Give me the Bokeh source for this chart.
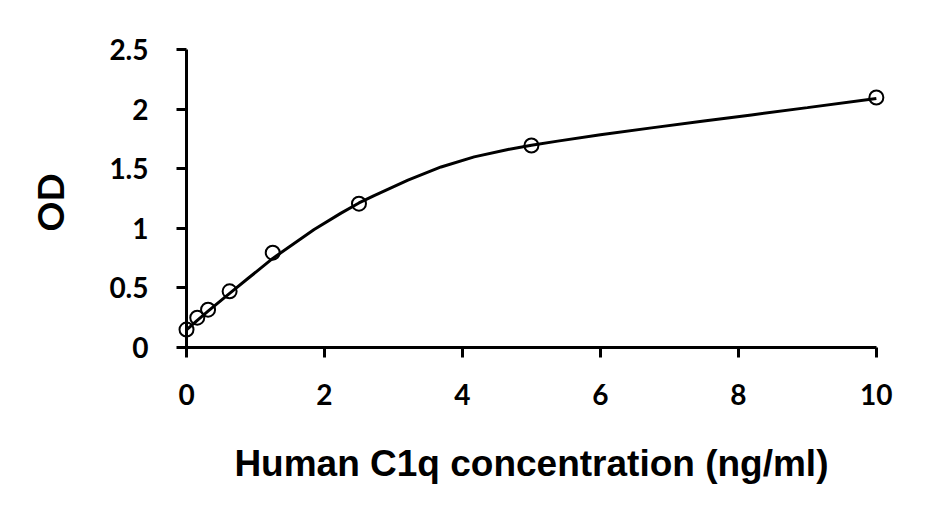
import math
from bokeh.plotting import figure
from bokeh.models import Range1d, FixedTicker, Label
from bokeh.embed import file_html
from bokeh.resources import INLINE

# Measured standards (ng/ml vs OD)
conc = [0, 0.156, 0.3125, 0.625, 1.25, 2.5, 5, 10]
od = [0.151, 0.251, 0.318, 0.472, 0.796, 1.207, 1.695, 2.098]

# Fitted curve
fit_x = [0, 0.156, 0.3125, 0.625, 0.885, 1.25, 1.85, 2.24, 2.5, 2.72, 3.21, 3.69,
         4.17, 4.66, 5.0, 5.38, 6.0, 6.74, 7.5, 8.19, 9.0, 10]
fit_y = [0.148, 0.228, 0.305, 0.455, 0.577, 0.748, 0.99, 1.128, 1.213, 1.275, 1.405, 1.515,
         1.600, 1.662, 1.697, 1.732, 1.785, 1.843, 1.90, 1.952, 2.013, 2.09]

x_ticks = [0, 2, 4, 6, 8, 10]
y_ticks = [0, 0.5, 1, 1.5, 2, 2.5]
y_labels = ["0", "0.5", "1", "1.5", "2", "2.5"]

x_title = "Human C1q concentration (ng/ml)"
y_title = "OD"

p = figure(frame_width=883, frame_height=472,
           x_range=Range1d(-2.45, 10.35), y_range=Range1d(-1.3, 2.66),
           output_backend="svg", toolbar_location=None,
           min_border_left=17, min_border_right=34,
           min_border_top=30, min_border_bottom=6)
p.outline_line_color = None
p.xgrid.visible = False
p.ygrid.visible = False
p.background_fill_color = "white"

for ax in (p.xaxis, p.yaxis):
    ax.fixed_location = 0
    ax.axis_line_width = 3
    ax.axis_line_color = "black"
    ax.major_tick_line_width = 3
    ax.major_tick_line_color = "black"
    ax.major_tick_in = 0
    ax.major_tick_out = 10
    ax.minor_tick_line_color = None
    ax.major_label_text_font = "Lato"
    ax.major_label_text_font_style = "bold"
    ax.major_label_text_font_size = "28px"
    ax.major_label_text_color = "black"

p.xaxis.ticker = FixedTicker(ticks=x_ticks)
p.xaxis.bounds = (0, 10)
p.xaxis.major_label_standoff = 26

p.yaxis.ticker = FixedTicker(ticks=y_ticks)
p.yaxis.bounds = (0, 2.5)
p.yaxis.major_label_overrides = {float(t): l for t, l in zip(y_ticks, y_labels)}
p.yaxis.major_label_standoff = 28

p.add_layout(Label(x=5, y=-0.97, text=x_title, text_align="center",
                   text_baseline="alphabetic", text_font="Liberation Sans",
                   text_font_style="bold", text_font_size="37px", text_color="black"))
p.add_layout(Label(x=-1.985, y=1.217, text=y_title, angle=math.pi / 2,
                   text_align="center", text_baseline="alphabetic",
                   text_font="Lato", text_font_style="bold",
                   text_font_size="37px", text_color="black"))

p.line(fit_x, fit_y, line_color="black", line_width=3)
p.scatter(conc, od, marker="circle", size=14, fill_color=None,
          line_color="black", line_width=2)

open("out.html", "w").write(file_html(p, INLINE))
